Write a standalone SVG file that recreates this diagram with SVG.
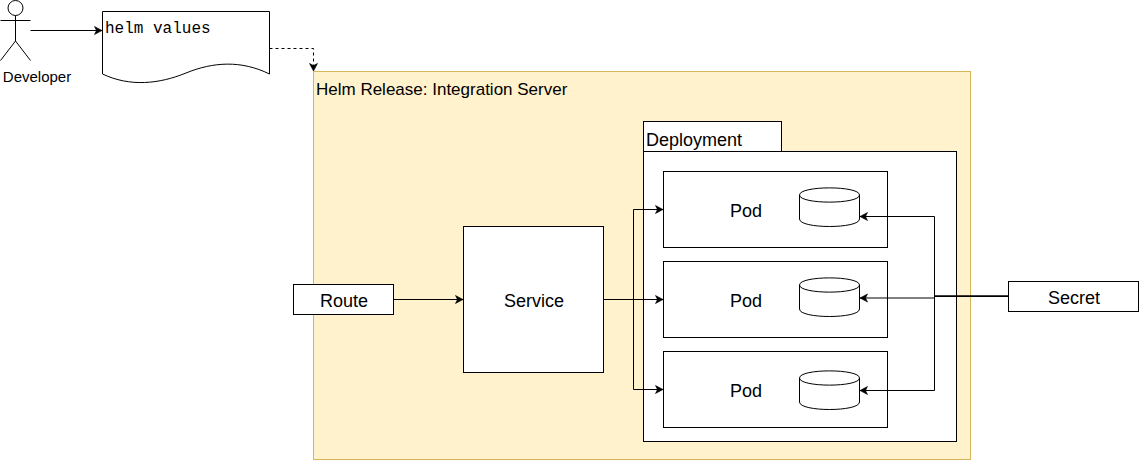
<svg xmlns="http://www.w3.org/2000/svg" width="1139" height="460" viewBox="0 0 1139 460">
<style>
text{font-family:"Liberation Sans",Arial,sans-serif;fill:#000}
.b{fill:#fff;stroke:#000;stroke-width:1}
.n{fill:none;stroke:#000;stroke-width:1}
.c{font-size:18px;text-anchor:middle}
.l{font-size:17px}
</style>
<defs>
<marker id="a" markerUnits="userSpaceOnUse" markerWidth="9" markerHeight="10" refX="8" refY="5" orient="auto"><path d="M0.500 1L8 5L0.500 9L2.500 5Z" fill="#000" stroke="#000" stroke-width=".6"/></marker>
</defs>
<rect width="1139" height="460" fill="#fff"/>
<g id="release"><rect x="313.500" y="71.500" width="657" height="388" fill="#fff2cc" stroke="#d6b656"/><text class="l" x="316" y="95">Helm Release: Integration Server</text></g>
<g id="developer"><circle cx="15.500" cy="8" r="7.500" class="b"/><path class="n" d="M15.500 15.500V41M15.500 41L0.500 60.500M15.500 41L30.500 60.500M0.500 20.500H30.500"/><text x="37" y="82" font-size="15" text-anchor="middle">Developer</text></g>
<g id="helm-values"><path class="b" d="M102.500 11.500H269.500V74C241 60 213 62 186 73C159 84 130 87 102.500 74Z"/><text x="105" y="33" font-size="16" style="font-family:'Liberation Mono',monospace">helm values</text></g>
<g id="deployment"><rect class="b" x="643.500" y="121.500" width="138" height="30"/><rect class="b" x="643.500" y="151.500" width="313" height="290"/><text x="646" y="146" font-size="18">Deployment</text></g>
<g id="pod1"><rect class="b" x="663.500" y="171.500" width="224" height="76"/><text class="c" x="746" y="217">Pod</text><path class="b" d="M799.500 195C799.500 185.500 859.500 185.500 859.500 195V219C859.500 229 799.500 229 799.500 219Z"/><path class="n" d="M799.500 195C799.500 204.500 859.500 204.500 859.500 195"/></g>
<g id="pod2"><rect class="b" x="663.500" y="261.500" width="224" height="76"/><text class="c" x="746" y="307">Pod</text><path class="b" d="M799.500 285C799.500 275.500 859.500 275.500 859.500 285V309C859.500 319 799.500 319 799.500 309Z"/><path class="n" d="M799.500 285C799.500 294.500 859.500 294.500 859.500 285"/></g>
<g id="pod3"><rect class="b" x="663.500" y="351.500" width="224" height="76"/><text class="c" x="746" y="397">Pod</text><path class="b" d="M799.500 378C799.500 368.500 859.500 368.500 859.500 378V402C859.500 412 799.500 412 799.500 402Z"/><path class="n" d="M799.500 378C799.500 387.500 859.500 387.500 859.500 378"/></g>
<g id="route"><rect class="b" x="293.500" y="284.500" width="100" height="30"/><text class="c" x="344" y="307">Route</text></g>
<g id="service"><rect class="b" x="463.500" y="226.500" width="140" height="146"/><text class="c" x="534" y="307">Service</text></g>
<g id="secret"><rect class="b" x="1008.500" y="281.500" width="130" height="30"/><text class="c" x="1074" y="304">Secret</text></g>
<g id="connectors">
<path class="n" d="M30.500 30.500H102" marker-end="url(#a)"/>
<path class="n" d="M269.500 48.500H313.500V71" stroke-dasharray="3 3" marker-end="url(#a)"/>
<path class="n" d="M393.500 299.500H463" marker-end="url(#a)"/>
<path class="n" d="M603.500 299.500H633.500V209.500H663" marker-end="url(#a)"/>
<path class="n" d="M603.500 299.500H663" marker-end="url(#a)"/>
<path class="n" d="M603.500 299.500H633.500V389.500H663" marker-end="url(#a)"/>
<path class="n" d="M1008 296H934.500V216.500H860" marker-end="url(#a)"/>
<path class="n" d="M1008 296.500H934.500V298H860" marker-end="url(#a)"/>
<path class="n" d="M1008 296H934.500V390.500H860" marker-end="url(#a)"/>
</g>
</svg>
